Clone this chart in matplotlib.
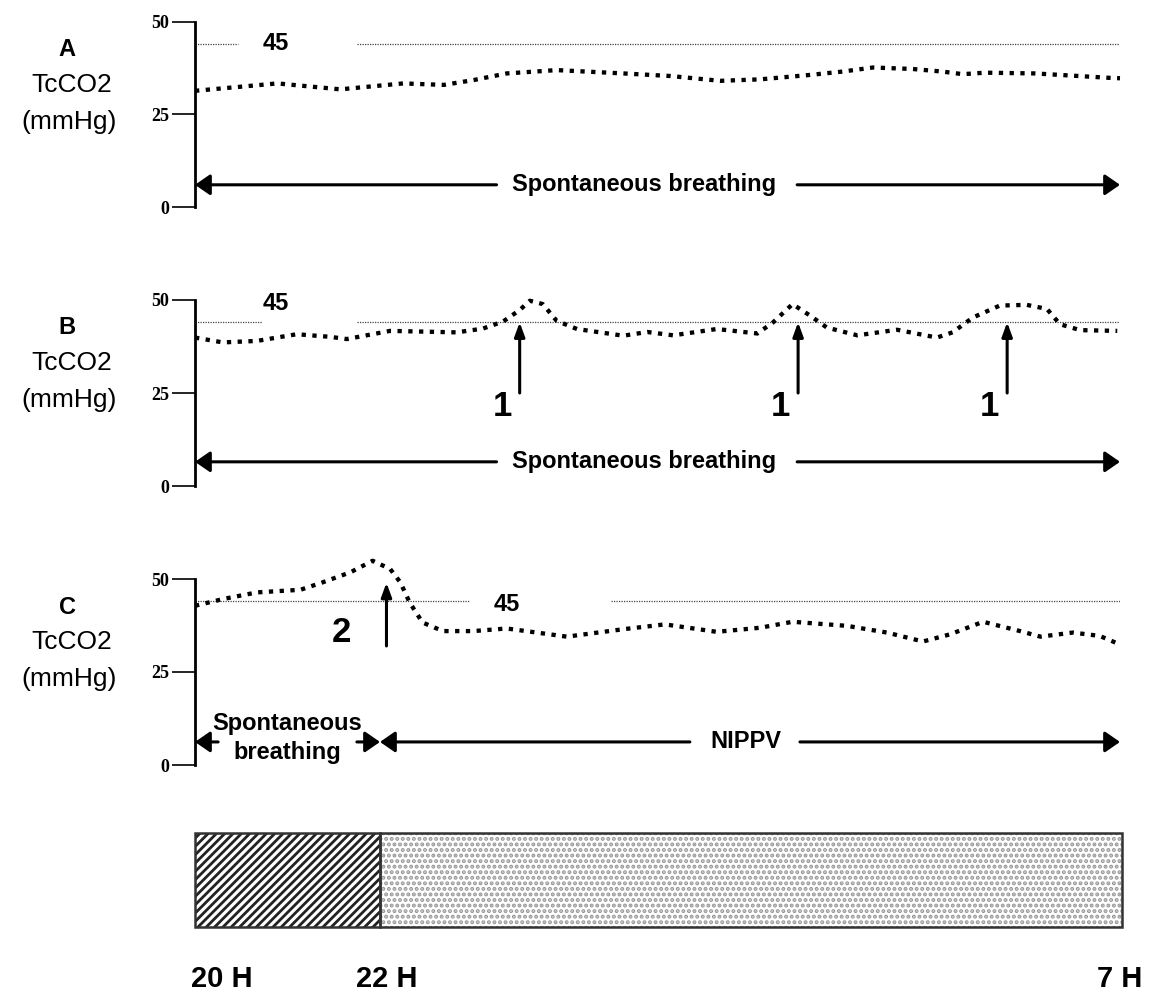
import matplotlib.pyplot as plt
import numpy as np

plt.rcParams['font.family'] = ['Liberation Sans', 'DejaVu Sans']
plt.rcParams['hatch.linewidth'] = 2.0

# time axis in arbitrary hour-units: 0 = 20 H, 2 = 22 H, 10 = 7 H
xa = [0.0, 0.89, 1.57, 2.25, 2.69, 3.01, 3.37, 3.91, 4.63, 5.14, 5.68, 6.11,
      6.65, 7.00, 7.33, 7.76, 8.08, 8.30, 8.54, 9.08, 9.89, 10.0]
ya = [31.4, 33.4, 31.8, 33.4, 33.0, 34.3, 36.1, 37.0, 36.1, 35.4, 34.1, 34.5,
      35.7, 36.6, 37.7, 37.3, 36.6, 35.9, 36.3, 36.1, 34.9, 34.8]

xb = [0.0, 0.30, 0.67, 1.10, 1.46, 1.64, 2.11, 2.83, 3.11, 3.33, 3.51, 3.62,
      3.76, 3.91, 4.13, 4.63, 4.89, 5.17, 5.64, 6.08, 6.25, 6.46, 6.65, 6.83,
      7.16, 7.59, 8.02, 8.19, 8.41, 8.70, 8.99, 9.21, 9.35, 9.57, 9.97]
yb = [39.9, 38.6, 39.0, 40.8, 40.1, 39.5, 41.7, 41.3, 42.3, 44.2, 47.3, 49.8,
      48.9, 44.4, 42.2, 40.4, 41.4, 40.5, 42.2, 41.0, 44.0, 48.9, 45.8, 42.6,
      40.5, 42.0, 39.9, 41.3, 45.3, 48.5, 48.7, 47.6, 43.5, 41.9, 41.7]

xc = [0.0, 0.30, 0.67, 1.14, 1.38, 1.68, 1.92, 2.11, 2.22, 2.32, 2.46, 2.68,
      3.01, 3.37, 4.02, 4.63, 5.08, 5.64, 6.11, 6.46, 7.05, 7.48, 7.87, 8.16,
      8.52, 8.92, 9.14, 9.49, 9.78, 10.0]
yc = [42.8, 44.6, 46.4, 47.1, 49.1, 51.8, 54.9, 52.7, 49.1, 43.7, 38.3, 36.0,
      36.0, 36.7, 34.5, 36.5, 37.8, 35.8, 36.9, 38.5, 37.4, 35.6, 33.2, 35.1,
      38.5, 36.0, 34.5, 35.6, 34.7, 32.4]

ref_value = 44
events_b = [3.51, 6.52, 8.78]   # "1" events
event_c = 2.07                   # "2" event
phase_edges = [0, 2.0, 10.02]

W, H = 1152, 997
fig = plt.figure(figsize=(W / 100, H / 100), dpi=100)


def fx(px):
    return px / W


def fy(py):
    return 1 - py / H


def make_panel(top, bottom):
    ax = fig.add_axes([fx(195), fy(bottom), 925 / W, (bottom - top) / H])
    ax.set_xlim(0, 10)
    ax.set_ylim(0, 50)
    for s in ['top', 'right', 'bottom']:
        ax.spines[s].set_visible(False)
    ax.spines['left'].set_linewidth(2.0)
    ax.set_xticks([])
    ax.set_yticks([0, 25, 50])
    ax.tick_params(axis='y', length=16.5, width=1.2, pad=2)
    for t in ax.get_yticklabels():
        t.set_family('Liberation Serif')
        t.set_fontweight('bold')
        t.set_fontsize(13)
    ax.patch.set_alpha(0)
    return ax


def curve(ax, x, y):
    ax.plot(x, y, color='black', lw=3.1, linestyle=(0, (1, 1.5)),
            dash_capstyle='butt', clip_on=False)


def ref(ax, segs, lx, ly):
    for a, b in segs:
        ax.plot([a, b], [ref_value, ref_value], color='#444444', lw=0.9,
                linestyle=(0, (1, 1)))
    ax.text(lx, ly, '45', ha='center', va='center', fontsize=17, fontweight='bold')


def harrow(ax, x0, x1, y):
    ax.annotate('', xy=(x1, y), xytext=(x0, y), annotation_clip=False,
                arrowprops=dict(arrowstyle='-|>,head_length=0.65,head_width=0.45',
                                lw=2.2, color='black', mutation_scale=14,
                                shrinkA=0, shrinkB=0))


def varrow(ax, x, y0, y1):
    ax.annotate('', xy=(x, y1), xytext=(x, y0), annotation_clip=False,
                arrowprops=dict(arrowstyle='-|>,head_length=0.6,head_width=0.22',
                                lw=2.2, color='black', mutation_scale=14,
                                shrinkA=0, shrinkB=0))


def side_label(letter, top):
    fig.text(fx(67), fy(top + 28), letter, ha='center', va='center',
             fontsize=17, fontweight='bold')
    fig.text(fx(72), fy(top + 63), 'TcCO2', ha='center', va='center', fontsize=19)
    fig.text(fx(69), fy(top + 100), '(mmHg)', ha='center', va='center', fontsize=19)


txt = dict(ha='center', va='center', fontsize=17, fontweight='bold')

# Panel A
axA = make_panel(22, 207)
ref(axA, [(0, 0.46), (1.75, 10)], 0.87, 44.2)
curve(axA, xa, ya)
harrow(axA, 3.26, 0, 6)
harrow(axA, 6.51, 10, 6)
axA.text(4.86, 6, 'Spontaneous breathing', **txt)
side_label('A', 22)

# Panel B
axB = make_panel(300, 486)
ref(axB, [(0, 0.72), (1.75, 10)], 0.87, 49.0)
curve(axB, xb, yb)
for e in events_b:
    varrow(axB, e, 25, ref_value)
    axB.text(e - 0.19, 21.5, '1', ha='center', va='center', fontsize=25,
             fontweight='bold')
harrow(axB, 3.26, 0, 6.5)
harrow(axB, 6.51, 10, 6.5)
axB.text(4.86, 6.5, 'Spontaneous breathing', **txt)
side_label('B', 300)

# Panel C
axC = make_panel(579, 765)
ref(axC, [(0, 2.97), (4.5, 10)], 3.37, 43.2)
curve(axC, xc, yc)
varrow(axC, event_c, 32, 49)
axC.text(1.58, 35.5, '2', ha='center', va='center', fontsize=25, fontweight='bold')
harrow(axC, 0.25, 0, 6.2)
harrow(axC, 1.75, 2.0, 6.2)
harrow(axC, 5.35, 2.0, 6.2)
harrow(axC, 6.54, 10, 6.2)
axC.text(1.0, 7.3, 'Spontaneous\nbreathing', ha='center', va='center',
         fontsize=17, fontweight='bold', linespacing=1.35)
axC.text(5.95, 6.2, 'NIPPV', **txt)
side_label('C', 579)

# bottom bar
axD = fig.add_axes([fx(195), fy(927), 925 / W, (927 - 833) / H])
axD.set_xlim(0, 10)
axD.set_ylim(0, 1)
axD.axis('off')
axD.bar(phase_edges[0], 1, width=phase_edges[1] - phase_edges[0], bottom=0,
        align='edge', facecolor='white', edgecolor='#222222', hatch='////', lw=0,
        clip_on=False)
axD.bar(phase_edges[1], 1, width=phase_edges[2] - phase_edges[1], bottom=0,
        align='edge', facecolor='white', edgecolor='#9a9a9a', hatch='...',
        lw=0, clip_on=False)
for i in range(2):
    axD.bar(phase_edges[i], 1, width=phase_edges[i + 1] - phase_edges[i], bottom=0,
            align='edge', fill=False, edgecolor='#333333', lw=1.8, clip_on=False)

time_labels = ['20 H', '22 H', '7 H']
time_pos = [0.29, 2.07, 10.0]
for lab, p in zip(time_labels, time_pos):
    axD.text(p, -0.55, lab, ha='center', va='center', fontsize=21, fontweight='bold')

fig.savefig('out.png', dpi=100)
